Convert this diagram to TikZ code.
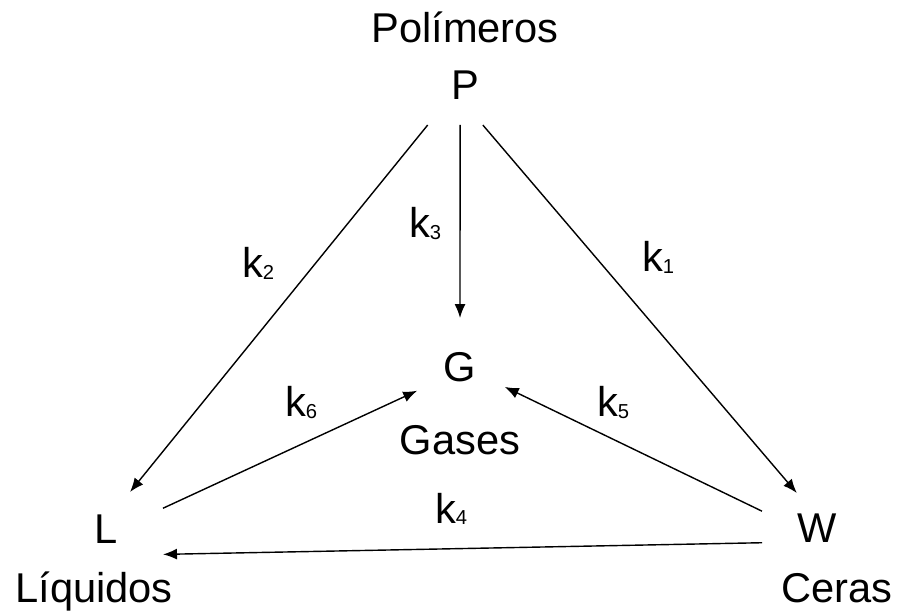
\documentclass[tikz,border=0pt]{standalone}
\usepackage{fontspec}
\setmainfont{Liberation Sans}
\usetikzlibrary{arrows.meta}
\newcommand{\kidx}[1]{k\raisebox{-0.6pt}{\fontsize{11.5}{12}\selectfont #1}}

\begin{document}
\begin{tikzpicture}[x=0.02cm,y=-0.02cm,
    font=\fontsize{23.7}{28}\selectfont,
    every node/.style={inner sep=0pt,outer sep=0pt},
    rotulo/.style={anchor=base},
    constante/.style={anchor=base west},
    flecha/.style={-{Latex[length=0.28cm,width=0.22cm]},line width=0.8pt}]
\useasboundingbox (0,0) rectangle (899,614);
% especies
\node[minimum width=1.92cm,minimum height=1.6cm] (P) at (465,85) {P};
\node[circle,minimum size=1.96cm] (G) at (460,367) {G};
\node[minimum width=2.28cm,minimum height=1.48cm] (L) at (106,529) {L};
\node[minimum width=2.2cm,minimum height=1.4cm] (W) at (817,528) {W};
\node[rotulo] (polimeros) at (465,43) {Polímeros};
\node[rotulo] (gases) at (460,455) {Gases};
\node[rotulo] (liquidos) at (94,602) {Líquidos};
\node[rotulo] (ceras) at (837,602) {Ceras};
% reacciones
\draw[flecha] (P.227) -- (L.57);
\draw[flecha] (P.263) -- (G.90);
\draw[flecha] (P.294) -- (W.120);
\draw[flecha] (L.20) -- (G.209);
\draw[flecha] (W.163) -- (G.336);
\draw[flecha] (W.195) -- (L.-24);
\node[constante] (k1) at (642,272) {\kidx{1}};
\node[constante] (k2) at (242,278) {\kidx{2}};
\node[constante] (k3) at (409,238) {\kidx{3}};
\node[constante] (k4) at (435,523) {\kidx{4}};
\node[constante] (k5) at (597,417) {\kidx{5}};
\node[constante] (k6) at (285,417) {\kidx{6}};
\end{tikzpicture}
\end{document}
